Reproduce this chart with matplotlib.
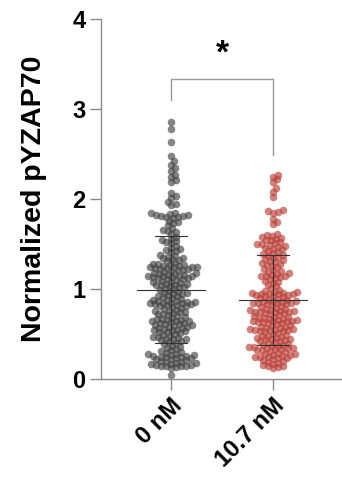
import matplotlib
matplotlib.use('Agg')
import matplotlib.pyplot as plt
import numpy as np

# values (normalized pYZAP70 per cell)
ctrl_vals = [
    2.86, 2.78, 2.63, 2.48, 2.42,
    2.38, 2.34, 2.31, 2.27, 2.24, 2.21, 2.19,
    2.07, 2.03, 2.01, 1.97, 1.93, 1.95,
    1.84, 1.83, 1.82, 1.81, 1.80, 1.80, 1.79, 1.82, 1.84, 1.81,
    1.76, 1.73, 1.71, 1.74, 1.68, 1.66, 1.63, 1.61, 1.65,
    1.58, 1.56, 1.53, 1.51, 1.55, 1.52, 1.48, 1.45, 1.43, 1.41, 1.46, 1.42,
    1.38, 1.36, 1.34, 1.33, 1.31, 1.37, 1.35, 1.32,
    1.29, 1.28, 1.28, 1.27, 1.26, 1.26, 1.25, 1.24, 1.24, 1.23, 1.22, 1.22,
    1.21, 1.21, 1.20, 1.27, 1.25, 1.23,
    1.19, 1.18, 1.18, 1.17, 1.16, 1.16, 1.15, 1.14, 1.14, 1.13, 1.12, 1.12,
    1.11, 1.11, 1.10, 1.17, 1.15, 1.13,
    1.09, 1.08, 1.07, 1.06, 1.06, 1.05, 1.04, 1.03, 1.02, 1.02, 1.01, 1.00, 1.08, 1.04,
    0.99, 0.98, 0.97, 0.96, 0.95, 0.94, 0.93, 0.92, 0.92, 0.91, 0.90, 0.96,
    0.89, 0.88, 0.87, 0.87, 0.86, 0.86, 0.85, 0.85, 0.84, 0.84, 0.83, 0.83,
    0.82, 0.82, 0.81, 0.81, 0.80, 0.88,
    0.79, 0.78, 0.77, 0.76, 0.75, 0.74, 0.73, 0.72, 0.72, 0.71, 0.70, 0.76,
    0.69, 0.68, 0.67, 0.66, 0.66, 0.65, 0.64, 0.63, 0.62, 0.62, 0.61, 0.60,
    0.60, 0.67, 0.64, 0.61,
    0.59, 0.58, 0.58, 0.57, 0.56, 0.55, 0.54, 0.53, 0.52, 0.52, 0.51, 0.50, 0.57, 0.54,
    0.49, 0.48, 0.47, 0.46, 0.45, 0.44, 0.43, 0.42, 0.41, 0.40, 0.47, 0.44,
    0.39, 0.37, 0.35, 0.33, 0.31, 0.30, 0.36, 0.32,
    0.29, 0.28, 0.28, 0.27, 0.26, 0.26, 0.25, 0.24, 0.23, 0.22, 0.22, 0.21,
    0.20, 0.27, 0.25, 0.23,
    0.19, 0.18, 0.18, 0.17, 0.16, 0.16, 0.15, 0.15, 0.14, 0.13, 0.12, 0.17, 0.14, 0.19,
    0.05,
]

treat_vals = [
    2.27, 2.25, 2.22, 2.19, 2.12, 2.08, 2.02,
    1.88, 1.87, 1.86, 1.85, 1.78, 1.75, 1.72,
    1.61, 1.60, 1.59, 1.58, 1.57, 1.56, 1.55, 1.54,
    1.52, 1.51, 1.50, 1.50, 1.49, 1.48, 1.47, 1.46, 1.45, 1.44,
    1.42, 1.41, 1.40, 1.39, 1.38, 1.37, 1.36, 1.35,
    1.33, 1.32, 1.31, 1.30, 1.29, 1.28, 1.27, 1.26,
    1.24, 1.22, 1.21, 1.20, 1.19, 1.18,
    1.17, 1.16, 1.15, 1.15, 1.14, 1.13, 1.12, 1.11,
    1.09, 1.08, 1.07, 1.05, 1.03, 1.01,
    0.99, 0.98, 0.97, 0.97, 0.96, 0.96, 0.95, 0.95, 0.94, 0.94, 0.93, 0.93,
    0.92, 0.92, 0.91, 0.90,
    0.89, 0.88, 0.88, 0.87, 0.87, 0.86, 0.86, 0.85, 0.85, 0.84, 0.84, 0.83,
    0.83, 0.82, 0.81, 0.80,
    0.79, 0.78, 0.78, 0.77, 0.77, 0.76, 0.76, 0.75, 0.75, 0.74, 0.74, 0.73,
    0.73, 0.72, 0.71, 0.70,
    0.69, 0.69, 0.68, 0.68, 0.67, 0.67, 0.66, 0.66, 0.65, 0.65, 0.64, 0.64,
    0.63, 0.63, 0.62, 0.62, 0.61, 0.60,
    0.59, 0.58, 0.58, 0.57, 0.57, 0.56, 0.56, 0.55, 0.55, 0.54, 0.54, 0.53,
    0.53, 0.52, 0.51, 0.50,
    0.49, 0.48, 0.48, 0.47, 0.46, 0.46, 0.45, 0.44, 0.44, 0.43, 0.42, 0.42,
    0.41, 0.40,
    0.39, 0.38, 0.38, 0.37, 0.37, 0.36, 0.36, 0.35, 0.34, 0.34, 0.33, 0.33,
    0.32, 0.32, 0.31, 0.30,
    0.29, 0.28, 0.28, 0.27, 0.27, 0.26, 0.25, 0.25, 0.24, 0.23, 0.23, 0.22,
    0.21, 0.20,
    0.19, 0.18, 0.17, 0.16, 0.15, 0.14, 0.13, 0.12,
]

groups = ['0 nM', '10.7 nM']
colors = ['#444444', '#bb4038']
star_text = '*'


def swarm_offsets(vals, px_x, px_y, gap):
    # simple beeswarm in pixel space, allows a bit of overlap
    order = np.argsort(vals)
    placed = []
    offs = np.zeros(len(vals))
    cand = [0.0]
    for k in range(1, 60):
        cand += [k * 1.0, -k * 1.0]
    for i in order:
        yp = vals[i] * px_y
        for c in cand:
            ok = True
            for (xq, yq) in placed:
                if abs(yq - yp) < gap and (xq - c) ** 2 + (yq - yp) ** 2 < gap ** 2:
                    ok = False
                    break
            if ok:
                offs[i] = c / px_x
                placed.append((c, yp))
                break
    return offs


if __name__ == '__main__':
    plt.rcParams['font.family'] = ['Liberation Sans', 'DejaVu Sans']
    plt.rcParams['font.weight'] = 'bold'

    fig = plt.figure(figsize=(3.42, 4.78), dpi=100)
    ax = fig.add_axes([0.295, 0.207, 0.705, 0.753])
    ax.set_xlim(-0.686, 1.676)
    ax.set_ylim(0, 4)

    px_x = 102.0
    px_y = 90.0
    data = [np.array(ctrl_vals), np.array(treat_vals)]
    for i, vals in enumerate(data):
        offs = swarm_offsets(vals, px_x, px_y, 4.4)
        ax.scatter(i + offs, vals, s=30, color=colors[i], alpha=0.65,
                   linewidths=0, zorder=2)
        m = vals.mean()
        sd = vals.std(ddof=1)
        print(groups[i], len(vals), m, sd)
        ax.plot([i - 0.33, i + 0.33], [m, m], color='#333333', lw=0.8, zorder=3)
        ax.plot([i - 0.16, i + 0.16], [m + sd, m + sd], color='#333333', lw=0.8, zorder=3)
        ax.plot([i - 0.16, i + 0.16], [m - sd, m - sd], color='#333333', lw=0.8, zorder=3)
        ax.plot([i, i], [m - sd, m + sd], color='#333333', lw=0.8, zorder=3)

    # significance bracket
    ax.plot([0, 0, 1, 1], [3.10, 3.33, 3.33, 2.49], color='#9a9a9a', lw=1.0,
            clip_on=False)
    ax.text(0.5, 3.44, star_text, ha='center', va='bottom', fontsize=24,
            fontweight='bold')

    for sp in ['top', 'right']:
        ax.spines[sp].set_visible(False)
    for sp in ['left', 'bottom']:
        ax.spines[sp].set_color('#8a8a8a')
        ax.spines[sp].set_linewidth(1.0)

    ax.set_yticks([0, 1, 2, 3, 4])
    ax.set_xticks([0, 1])
    ax.set_xticklabels(groups, rotation=45, ha='right', rotation_mode='anchor')
    ax.tick_params(axis='both', colors='#8a8a8a', length=8, width=1.0,
                   labelsize=17, labelcolor='black', pad=3)
    ax.set_ylabel('Normalized pYZAP70', fontsize=20.5, fontweight='bold')
    ax.yaxis.set_label_coords(-0.225, 0.5)

    plt.savefig('out.png', dpi=100)
